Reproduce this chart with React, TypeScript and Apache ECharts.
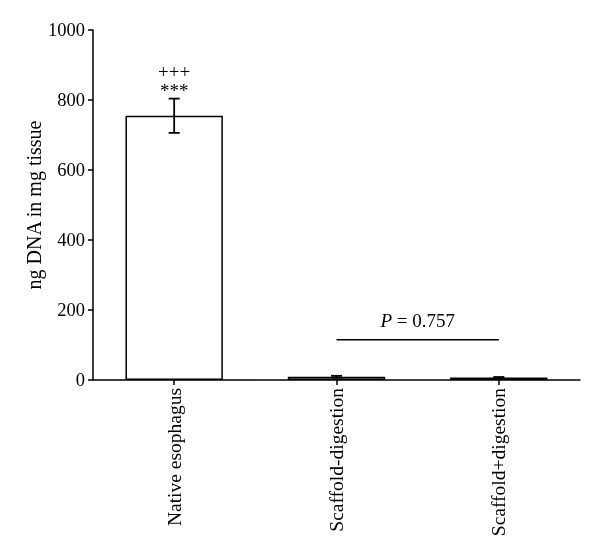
import React, { useEffect, useRef } from "react";
import * as echarts from "echarts";

const categories = ["Native esophagus", "Scaffold-digestion", "Scaffold+digestion"];
const means = [755, 9.5, 7];
const errors = [49, 2.5, 1.5];
const yTicks = [0, 200, 400, 600, 800, 1000];
const starLabel = "***";
const plusLabel = "+++";
const pLabel = "P = 0.757";
const pValueY = 115;
const pPair = [1, 2];

const FONT = "'Liberation Serif', 'DejaVu Serif', serif";

export default function App() {
  const ref = useRef<HTMLDivElement>(null);
  useEffect(() => {
    if (!ref.current) return;
    const chart = echarts.init(ref.current, undefined, { renderer: "svg" });
    const errData = means.map((m, i) => [i, m - errors[i], m + errors[i]]);
    chart.setOption({
      animation: false,
      grid: { left: 93, right: 20, top: 30, bottom: 179, containLabel: false },
      xAxis: {
        type: "category",
        data: categories,
        boundaryGap: true,
        axisLine: { lineStyle: { color: "#000", width: 1.5 } },
        axisTick: { show: true, alignWithLabel: true, length: 5, lineStyle: { color: "#000", width: 1.5 } },
        axisLabel: { rotate: 90, color: "#000", fontFamily: FONT, fontSize: 19.5, margin: 8 },
        splitLine: { show: false },
      },
      yAxis: {
        type: "value",
        min: yTicks[0],
        max: yTicks[yTicks.length - 1],
        interval: 200,
        name: "ng DNA in mg tissue",
        nameLocation: "middle",
        nameGap: 49,
        nameMoveOverlap: false,
        nameTextStyle: { color: "#000", fontFamily: FONT, fontSize: 20 },
        axisLine: { show: true, lineStyle: { color: "#000", width: 1.5 } },
        axisTick: { show: true, length: 5, lineStyle: { color: "#000", width: 1.5 } },
        axisLabel: { color: "#000", fontFamily: FONT, fontSize: 18.5, margin: 8, formatter: (v: number) => String(v) },
        splitLine: { show: false },
      },
      series: [
        {
          type: "bar",
          data: means,
          barWidth: "60%",
          itemStyle: { color: "#fff", borderColor: "#000", borderWidth: 1.5 },
          z: 2,
        },
        {
          type: "custom",
          z: 3,
          data: errData,
          renderItem: (params: any, api: any) => {
            const x = api.value(0);
            const lo = api.coord([x, api.value(1)]);
            const hi = api.coord([x, api.value(2)]);
            const w = 5.5;
            const style = { stroke: "#000", lineWidth: 1.8 };
            return {
              type: "group",
              children: [
                { type: "line", shape: { x1: lo[0], y1: lo[1], x2: hi[0], y2: hi[1] }, style },
                { type: "line", shape: { x1: lo[0] - w, y1: lo[1], x2: lo[0] + w, y2: lo[1] }, style },
                { type: "line", shape: { x1: hi[0] - w, y1: hi[1], x2: hi[0] + w, y2: hi[1] }, style },
              ],
            };
          },
        },
        {
          type: "custom",
          z: 4,
          data: [[0, means[0] + errors[0]]],
          renderItem: (params: any, api: any) => {
            const p = api.coord([api.value(0), api.value(1)]);
            return {
              type: "text",
              style: {
                text: `${plusLabel}\n${starLabel}`,
                x: p[0],
                y: p[1] - 18,
                align: "center",
                verticalAlign: "middle",
                lineHeight: 19,
                font: `19px ${FONT}`,
                fill: "#000",
              },
            };
          },
        },
        {
          type: "custom",
          z: 4,
          data: [[pPair[0], pPair[1], pValueY]],
          renderItem: (params: any, api: any) => {
            const a = api.coord([api.value(0), api.value(2)]);
            const b = api.coord([api.value(1), api.value(2)]);
            return {
              type: "group",
              children: [
                { type: "line", shape: { x1: a[0], y1: a[1], x2: b[0], y2: b[1] }, style: { stroke: "#000", lineWidth: 1.5 } },
                {
                  type: "text",
                  style: {
                    rich: {
                      i: { fontStyle: "italic", fontFamily: FONT, fontSize: 19, fill: "#000" },
                      n: { fontFamily: FONT, fontSize: 19, fill: "#000" },
                    },
                    text: `{i|${pLabel.split(" ")[0]}}{n| ${pLabel.split(" ").slice(1).join(" ")}}`,
                    x: (a[0] + b[0]) / 2,
                    y: a[1] - 10,
                    align: "center",
                    verticalAlign: "bottom",
                  },
                },
              ],
            };
          },
        },
      ],
    });
    return () => chart.dispose();
  }, []);
  return <div ref={ref} style={{ position: "fixed", left: 0, top: 0, width: 600, height: 559 }} />;
}
